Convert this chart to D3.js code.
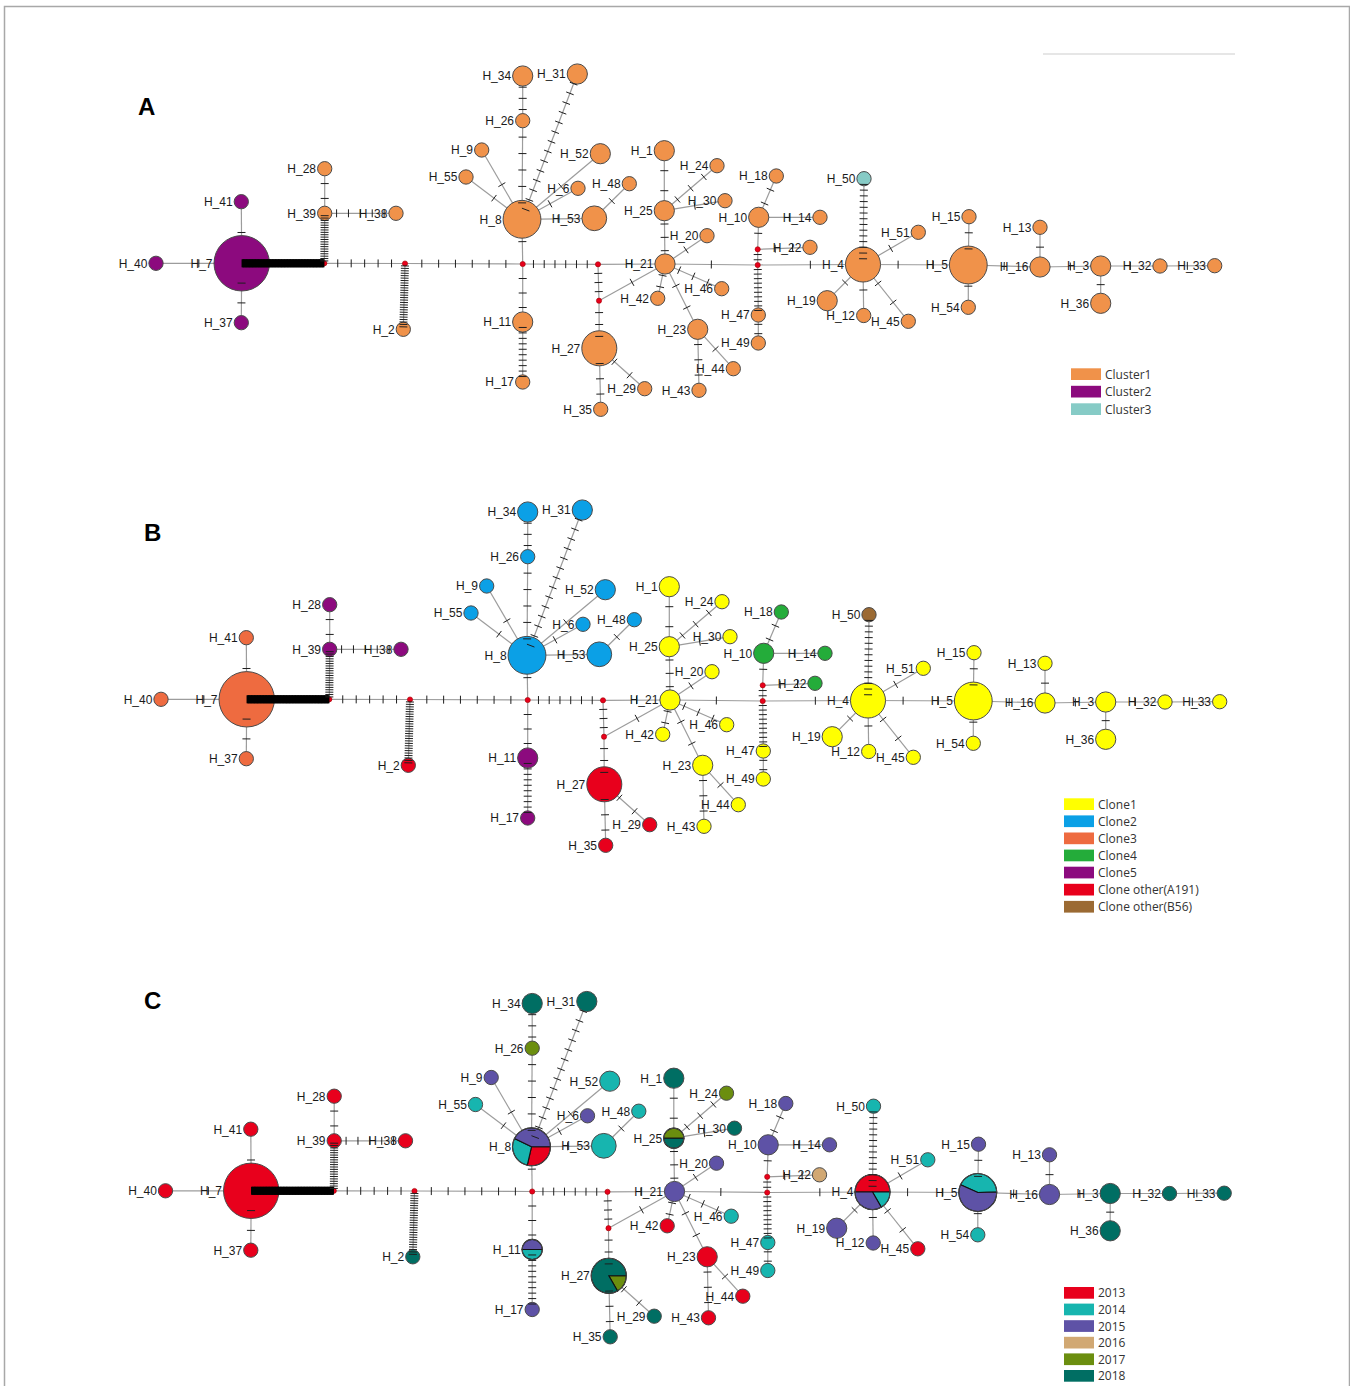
<!DOCTYPE html>
<html>
<head>
<meta charset="utf-8">
<script src="https://cdn.jsdelivr.net/npm/d3@7"></script>
<style>
  html, body { margin: 0; padding: 0; background: #fff; }
  svg { display: block; }
</style>
</head>
<body>
<script>
// ---------------- DATA ----------------
const haplotypes = ["H_1","H_2","H_3","H_4","H_5","H_6","H_7","H_8","H_9","H_10",
  "H_11","H_12","H_13","H_14","H_15","H_16","H_17","H_18","H_19","H_20",
  "H_21","H_22","H_23","H_24","H_25","H_26","H_27","H_28","H_29","H_30",
  "H_31","H_32","H_33","H_34","H_35","H_36","H_37","H_38","H_39","H_40",
  "H_41","H_42","H_43","H_44","H_45","H_46","H_47","H_48","H_49","H_50",
  "H_51","H_52","H_53","H_54","H_55"];

// number of isolates per haplotype (circle size)
const hapCounts = [2,1,2,6,7,1,15,7,1,2,
  2,1,1,1,1,2,1,1,2,1,
  2,1,2,1,2,1,6,1,1,1,
  2,1,1,2,1,2,1,1,1,1,
  1,1,1,1,1,1,1,1,1,1,
  1,2,3,1,1];

const clusterNames = ["Cluster1","Cluster2","Cluster3"];
const hapCluster = ["Cluster1","Cluster1","Cluster1","Cluster1","Cluster1","Cluster1","Cluster2","Cluster1","Cluster1","Cluster1",
  "Cluster1","Cluster1","Cluster1","Cluster1","Cluster1","Cluster1","Cluster1","Cluster1","Cluster1","Cluster1",
  "Cluster1","Cluster1","Cluster1","Cluster1","Cluster1","Cluster1","Cluster1","Cluster1","Cluster1","Cluster1",
  "Cluster1","Cluster1","Cluster1","Cluster1","Cluster1","Cluster1","Cluster2","Cluster1","Cluster1","Cluster2",
  "Cluster2","Cluster1","Cluster1","Cluster1","Cluster1","Cluster1","Cluster1","Cluster1","Cluster1","Cluster3",
  "Cluster1","Cluster1","Cluster1","Cluster1","Cluster1"];

const cloneNames = ["Clone1","Clone2","Clone3","Clone4","Clone5","Clone other(A191)","Clone other(B56)"];
const hapClone = ["Clone1","Clone other(A191)","Clone1","Clone1","Clone1","Clone2","Clone3","Clone2","Clone2","Clone4",
  "Clone5","Clone1","Clone1","Clone4","Clone1","Clone1","Clone5","Clone4","Clone1","Clone1",
  "Clone1","Clone4","Clone1","Clone1","Clone1","Clone2","Clone other(A191)","Clone5","Clone other(A191)","Clone1",
  "Clone2","Clone1","Clone1","Clone2","Clone other(A191)","Clone1","Clone3","Clone5","Clone5","Clone3",
  "Clone3","Clone1","Clone1","Clone1","Clone1","Clone1","Clone1","Clone2","Clone1","Clone other(B56)",
  "Clone1","Clone2","Clone2","Clone1","Clone2"];

const years = ["2013","2014","2015","2016","2017","2018"];
// single-year haplotypes
const hapYear = ["2018","2018","2018",null,null,"2015","2013",null,"2015","2015",
  null,"2015","2015","2015","2015","2015","2015","2015","2015","2015",
  "2015","2016","2013","2017",null,"2017",null,"2013","2018","2018",
  "2018","2018","2018","2018","2018","2018","2013","2013","2013","2013",
  "2013","2013","2013","2013","2013","2014","2014","2014","2014","2014",
  "2014","2014","2014","2014","2014"];
// mixed-year haplotypes: counts per year 2013..2018
const mixedHaps   = ["H_4", "H_5", "H_8", "H_11", "H_25", "H_27"];
const mixedCounts = [[3,1,2,0,0,0],[0,3,4,0,0,0],[2,2,3,0,0,0],[0,1,1,0,0,0],[0,0,0,0,1,1],[0,0,0,0,1,5]];

const medianVectors = ["m1","m2","m3","m4","m5","m6","m7"];

// edges: [from, to, number of mutation steps]
const edgeFrom  = ["H_40","H_41","H_37","H_7","m1","H_39","H_39","m1","m2","m2",
  "m3","H_8","H_26","H_8","H_8","H_8","H_8","H_8","H_8","H_53",
  "m3","H_11","m3","m4","m4","m5","m5","H_27","H_27","H_21",
  "H_25","H_25","H_25","H_21","H_21","H_21","H_21","H_23","H_23","H_21",
  "m6","m7","m7","H_10","H_10","m6","H_47","m6","H_4","H_4",
  "H_4","H_4","H_4","H_4","H_5","H_5","H_5","H_16","H_16","H_3",
  "H_3","H_32"];
const edgeTo    = ["H_7","H_7","H_7","m1","H_39","H_28","H_38","m2","H_2","m3",
  "H_8","H_26","H_34","H_31","H_9","H_55","H_52","H_6","H_53","H_48",
  "H_11","H_17","m4","H_21","m5","H_27","H_21","H_35","H_29","H_25",
  "H_1","H_24","H_30","H_20","H_42","H_46","H_23","H_44","H_43","m6",
  "m7","H_10","H_22","H_18","H_14","H_47","H_49","H_4","H_50","H_51",
  "H_19","H_12","H_45","H_5","H_15","H_54","H_16","H_13","H_3","H_36",
  "H_32","H_33"];
const edgeSteps = [1,1,2,110,20,2,5,5,26,6,
  1,5,3,14,1,1,1,1,1,1,
  3,10,6,1,3,3,1,3,2,3,
  2,3,1,1,2,3,2,1,3,1,
  2,1,2,2,1,10,2,1,14,1,
  1,1,2,2,2,1,1,1,1,1,
  1,1];

// ---------------- LAYOUT (network coordinates, panel A frame) ----------------
const layout = {
  "H_7":[241.7,263.3],"H_40":[156,263.3],"H_41":[241.3,201.7],"H_37":[241.3,322.7],
  "m1":[324.3,263.3],"H_39":[324.7,213.3],"H_28":[324.7,168.7],"H_38":[396,213.3],
  "m2":[405,263.5],"H_2":[403.3,329.3],"m3":[522.7,264],"H_8":[522,219.3],
  "H_26":[522.7,120.7],"H_34":[522.7,76],"H_31":[577.3,74],"H_9":[481.7,150],
  "H_55":[466,177],"H_52":[600.3,153.7],"H_6":[578,188.3],"H_53":[594.3,218.3],
  "H_48":[629.3,183.7],"H_11":[522.7,322],"H_17":[522.7,382],"m4":[598,264.3],
  "m5":[599,300.7],"H_27":[599.3,348.3],"H_35":[600.7,409.3],"H_29":[644.7,388.7],
  "H_21":[665,264],"H_25":[664.3,210.7],"H_1":[664.3,150.7],"H_24":[717,165.7],
  "H_30":[725,200.7],"H_20":[707,235.7],"H_42":[657.7,298.3],"H_46":[721.7,288.7],
  "H_23":[697.7,329.3],"H_44":[733.3,368.7],"H_43":[699,390.3],"m6":[757.7,265],
  "m7":[757.7,249.3],"H_10":[758.7,217.3],"H_18":[776.3,176],"H_14":[820,217.3],
  "H_22":[810,247.3],"H_47":[758.3,315],"H_49":[758.3,343],"H_4":[863,264.5],
  "H_50":[864,178.7],"H_51":[918.3,232.3],"H_19":[827.2,300.7],"H_12":[863.7,315.5],
  "H_45":[908.3,321.3],"H_5":[968.3,265],"H_15":[969,216.7],"H_54":[968.3,307.3],
  "H_16":[1040,267],"H_13":[1040,227.3],"H_3":[1100.7,266],"H_36":[1100.7,303.3],
  "H_32":[1160,266],"H_33":[1214.7,265.7]
};
const pieStart = {"H_4":-Math.PI/2,"H_5":-1.15,"H_8":Math.PI/2,"H_11":Math.PI/2,"H_25":-Math.PI/2,"H_27":Math.PI/2};

const panels = [
  {letter:"A", dx:0,   dy:0,     lx:138, ly:115,  mode:"cluster", legX:1071, legY:368.3,  legStep:17.5},
  {letter:"B", dx:5,   dy:436,   lx:144, ly:541,  mode:"clone",   legX:1064, legY:798.3,  legStep:17.1},
  {letter:"C", dx:9.5, dy:927.5, lx:144, ly:1009, mode:"year",    legX:1064, legY:1287.0, legStep:16.6}
];

// ---------------- SCALES / COLORS ----------------
const W = 1350, H = 1386;
const rScale = d3.scaleSqrt().domain([0, 1]).range([0, 7.15]);
const clusterColor = d3.scaleOrdinal().domain(clusterNames).range(["#F0924A","#8C0A7E","#86CBC6"]);
const cloneColor = d3.scaleOrdinal().domain(cloneNames).range(["#FFFF00","#0BA0E6","#EE6B40","#24AC3A","#8C0A7E","#E8001C","#9B6A33"]);
const yearColor = d3.scaleOrdinal().domain(years).range(["#E8001C","#17B5AF","#5E52A6","#D1A873","#6B8E0F","#006E63"]);

const hapIdx = new Map(haplotypes.map((h, i) => [h, i]));
const mixIdx = new Map(mixedHaps.map((h, i) => [h, i]));

const svg = d3.select("body").append("svg").attr("width", W).attr("height", H);

// outer frame
svg.append("path")
  .attr("d", "M4.5," + (H + 5) + " V6.5 H1349.5 V" + (H + 5))
  .attr("fill", "none").attr("stroke", "#a8a8a8").attr("stroke-width", 1.5);

// faint line top right of panel A
svg.append("line").attr("x1", 1043).attr("x2", 1235).attr("y1", 54).attr("y2", 54)
  .attr("stroke", "#dedede").attr("stroke-width", 1.5);

const edges = edgeFrom.map((f, i) => ({from: f, to: edgeTo[i], steps: edgeSteps[i]}));
const nodes = haplotypes.map((h, i) => ({id: h, n: hapCounts[i]}));

panels.forEach(p => {
  const x = d3.scaleLinear().domain([0, W]).range([p.dx, W + p.dx]);
  const y = d3.scaleLinear().domain([0, H]).range([p.dy, H + p.dy]);
  const px = id => x(layout[id][0]);
  const py = id => y(layout[id][1]);
  const g = svg.append("g");

  // panel letter
  g.append("text").attr("x", p.lx).attr("y", p.ly)
    .attr("font-family", "'Liberation Sans', Arial, sans-serif")
    .attr("font-weight", "bold").attr("font-size", 24).attr("fill", "#000")
    .text(p.letter);

  // edges
  g.append("g").selectAll("line").data(edges).join("line")
    .attr("x1", d => px(d.from)).attr("y1", d => py(d.from))
    .attr("x2", d => px(d.to)).attr("y2", d => py(d.to))
    .attr("stroke", "#9c9c9c").attr("stroke-width", 1.2);

  // nodes
  const ng = g.append("g");
  nodes.forEach(nd => {
    const i = hapIdx.get(nd.id);
    const r = rScale(nd.n);
    const cx = px(nd.id), cy = py(nd.id);
    if (p.mode === "year" && mixIdx.has(nd.id)) {
      const counts = mixedCounts[mixIdx.get(nd.id)];
      const items = years.map((yr, k) => ({yr, v: counts[k]})).filter(d => d.v > 0);
      const s = pieStart[nd.id] || 0;
      const pie = d3.pie().sort(null).value(d => d.v).startAngle(s).endAngle(s + 2 * Math.PI);
      const arc = d3.arc().innerRadius(0).outerRadius(r);
      const pg = ng.append("g").attr("transform", `translate(${cx},${cy})`);
      pg.selectAll("path").data(pie(items)).join("path")
        .attr("d", arc).attr("fill", d => yearColor(d.data.yr))
        .attr("stroke", "#111").attr("stroke-width", 1.1);
      pg.append("circle").attr("r", r).attr("fill", "none")
        .attr("stroke", "#4a4a4a").attr("stroke-width", 1);
    } else {
      let fill;
      if (p.mode === "cluster") fill = clusterColor(hapCluster[i]);
      else if (p.mode === "clone") fill = cloneColor(hapClone[i]);
      else fill = yearColor(hapYear[i]);
      ng.append("circle").attr("cx", cx).attr("cy", cy).attr("r", r)
        .attr("fill", fill).attr("stroke", "#4a4a4a").attr("stroke-width", 1);
    }
  });

  // median vectors
  g.append("g").selectAll("circle").data(medianVectors).join("circle")
    .attr("cx", d => px(d)).attr("cy", d => py(d)).attr("r", 2.6)
    .attr("fill", "#E8001C").attr("stroke", "#a00000").attr("stroke-width", 0.6);

  // mutation ticks
  const tickData = [];
  edges.forEach(e => {
    const x1 = px(e.from), y1 = py(e.from), x2 = px(e.to), y2 = py(e.to);
    const L = Math.hypot(x2 - x1, y2 - y1);
    const ux = (x2 - x1) / L, uy = (y2 - y1) / L;
    const nx = -uy, ny = ux;
    const spacing = L / (e.steps + 1);
    const sw = spacing < 1.2 ? 1.8 : 1;
    for (let k = 1; k <= e.steps; k++) {
      const t = k / (e.steps + 1);
      const cx = x1 + (x2 - x1) * t, cy = y1 + (y2 - y1) * t;
      tickData.push({x1: cx - nx * 4, y1: cy - ny * 4, x2: cx + nx * 4, y2: cy + ny * 4, sw,
        col: spacing < 1.2 ? "#000" : "#1e1e1e"});
    }
  });
  g.append("g").selectAll("line").data(tickData).join("line")
    .attr("x1", d => d.x1).attr("y1", d => d.y1).attr("x2", d => d.x2).attr("y2", d => d.y2)
    .attr("stroke", d => d.col).attr("stroke-width", d => d.sw);

  // labels
  g.append("g").selectAll("text").data(nodes).join("text")
    .attr("x", d => px(d.id) - rScale(d.n) - 1.5)
    .attr("y", d => py(d.id) + 4.3)
    .attr("text-anchor", "end")
    .attr("font-family", "'Liberation Sans', Arial, sans-serif")
    .attr("font-size", 12).attr("fill", "#1a1a1a")
    .text(d => d.id);

  // legend
  let names, colorFn;
  if (p.mode === "cluster") { names = clusterNames; colorFn = clusterColor; }
  else if (p.mode === "clone") { names = cloneNames; colorFn = cloneColor; }
  else { names = years; colorFn = yearColor; }
  const lg = g.append("g");
  names.forEach((nm, k) => {
    const ty = p.legY + k * p.legStep;
    lg.append("rect").attr("x", p.legX).attr("y", ty).attr("width", 30).attr("height", 11.7)
      .attr("fill", colorFn(nm));
    lg.append("text").attr("x", p.legX + 34).attr("y", ty + 10.3)
      .attr("font-family", "'Open Sans', 'Noto Sans', sans-serif")
      .attr("font-size", 12).attr("fill", "#333")
      .text(nm);
  });
});
</script>
</body>
</html>
